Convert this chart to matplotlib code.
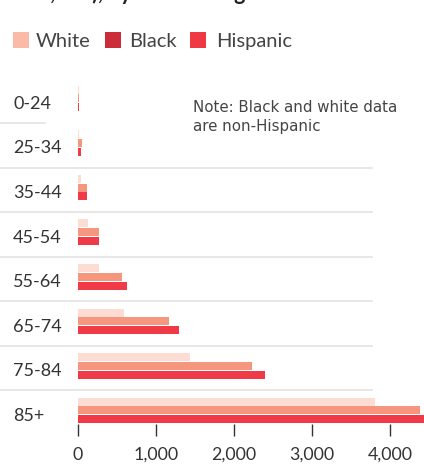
import matplotlib
matplotlib.use("Agg")
import matplotlib.pyplot as plt
import matplotlib.transforms as mtransforms
from matplotlib.lines import Line2D
from matplotlib.patches import Rectangle
import numpy as np

# ---- data ----
age_groups = ["0-24", "25-34", "35-44", "45-54", "55-64", "65-74", "75-84", "85+"]
white = [10, 13, 42, 124, 269, 590, 1432, 3808]
black = [12, 51, 115, 269, 560, 1167, 2227, 4385]
hispanic = [12, 42, 115, 269, 624, 1295, 2397, 4460]
series_names = ["White", "Black", "Hispanic"]
xticks = [0, 1000, 2000, 3000, 4000]
xtick_labels = ["0", "1,000", "2,000", "3,000", "4,000"]
note_text = "Note: Black and white data\nare non-Hispanic"
title_tail = "100,000), by race and age"

bar_colors = ["#fddcd3", "#f7967f", "#f03a47"]
legend_colors = ["#fbb9a8", "#cc2c3a", "#ef3843"]
text_color = "#333333"

W, H = 424, 467
fig = plt.figure(figsize=(W / 100, H / 100), dpi=100)

def fx(px):
    return px / W

def fy(py):
    return 1 - py / H

ax_left_px, ax_right_px = 78, 424
ax_top_px, ax_bot_px = 60, 423.5
ax = fig.add_axes([fx(ax_left_px), fy(ax_bot_px), fx(ax_right_px - ax_left_px),
                   (ax_bot_px - ax_top_px) / H])

spacing_px = 44.6
n = len(age_groups)
center_last_px = 410.5
y_bottom = (n - 1) + (ax_bot_px - center_last_px) / spacing_px
y_top = (n - 1) - (center_last_px - ax_top_px) / spacing_px
ax.set_ylim(y_bottom, y_top)
xmax = 1000 * (ax_right_px - ax_left_px) / 78.0
ax.set_xlim(0, xmax)

ypos = np.arange(n)
off = 8.8 / spacing_px
bh = 8.0 / spacing_px
for vals, c, o in zip([white, black, hispanic], bar_colors, [-off, 0, off]):
    ax.barh(ypos + o, vals, height=bh, color=c, edgecolor="none", clip_on=True)

for s in ax.spines.values():
    s.set_visible(False)
ax.set_yticks([])
ax.set_xticks(xticks)
ax.set_xticklabels(xtick_labels, fontsize=12.8, color=text_color, family="Lato")
ax.tick_params(axis="x", direction="out", length=8.6, width=1.0, color="#333333", pad=8)
ax.patch.set_alpha(0)

# separators
trans = mtransforms.blended_transform_factory(fig.transFigure, ax.transData)
for i in range(n - 1):
    yy = i + 0.5 + 2.3 / spacing_px
    x1 = fx(45) if i == 0 else fx(372)
    fig.add_artist(Line2D([0, x1], [yy, yy], transform=trans, color="#e3e3e3",
                          lw=1.2, zorder=0))

# category labels
for i, lab in enumerate(age_groups):
    fig.text(fx(13), 0, lab, transform=trans, fontsize=13, family="Lato",
             color=text_color, va="center", ha="left")
    fig.texts[-1].set_position((fx(13), i + 5.5 / spacing_px))

# note
fig.text(fx(193), fy(100), note_text, fontsize=10.8, family=["Liberation Sans Narrow", "DejaVu Sans"],
         color="#444444", va="top", ha="left", linespacing=1.35)

# legend
lx = [13, 105, 190]
tx = [36, 129, 216]
for name, c, x0, x1 in zip(series_names, legend_colors, lx, tx):
    fig.add_artist(Rectangle((fx(x0), fy(48.3)), fx(16), 16.6 / H, transform=fig.transFigure,
                             facecolor=c, edgecolor="none"))
    fig.text(fx(x1), fy(41.3), name, fontsize=14.5, family="Lato", color="#444444",
             va="center", ha="left")

# cut-off title tail
fig.text(fx(13), fy(-0.5), title_tail, fontsize=15.5, family="Lato", weight="bold",
         color="#222222", va="baseline", ha="left")

fig.savefig("out.png", dpi=100)
